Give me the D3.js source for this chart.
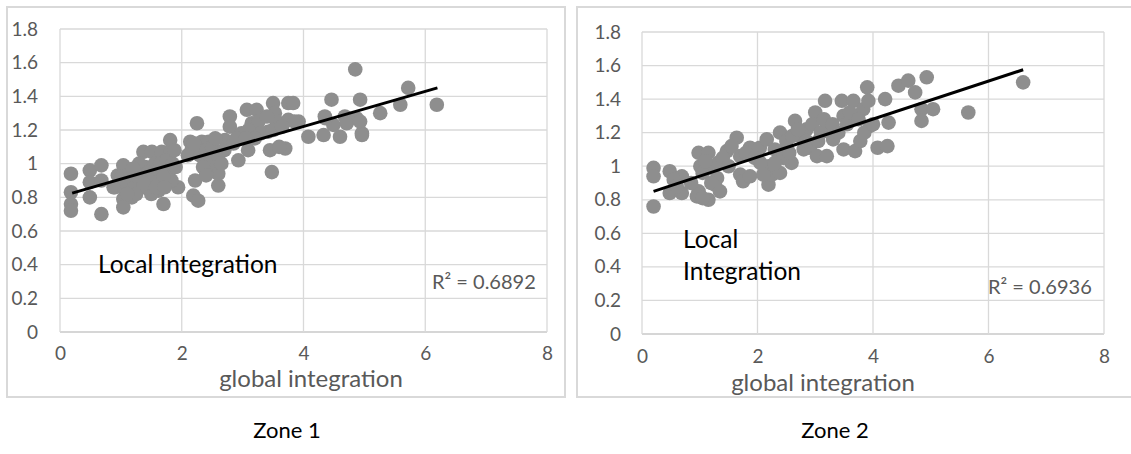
<!DOCTYPE html>
<html>
<head>
<meta charset="utf-8">
<script src="https://cdn.jsdelivr.net/npm/d3@7"></script>
<style>
  html, body { margin: 0; padding: 0; background: #ffffff; }
  svg { display: block; font-family: Lato, "Open Sans", sans-serif; }
</style>
</head>
<body>
<svg id="chart" width="1131" height="454"></svg>
<script>
// ---------- data ----------
const xTicks = [0, 2, 4, 6, 8];
const yTicks = [0, 0.2, 0.4, 0.6, 0.8, 1, 1.2, 1.4, 1.6, 1.8];
const xAxisTitle = "global integration";
const zoneNames = ["Zone 1", "Zone 2"];
const annotation1 = ["Local Integration"];
const annotation2 = ["Local", "Integration"];
const rSquared = ["R² = 0.6892", "R² = 0.6936"];

// Zone 1 scatter (global integration, local integration)
const zone1X = [0.18,0.18,0.18,0.18,0.49,0.68,0.49,0.68,0.49,0.68,0.88,0.95,0.90,
  1.04,1.01,1.07,1.04,1.04,1.18,1.23,1.37,1.40,1.34,1.51,1.56,1.51,1.62,1.70,1.67,1.81,1.81,1.78,1.94,1.83,
  1.10,1.15,1.20,1.25,1.30,1.30,1.45,1.45,1.50,1.55,1.60,1.65,1.70,1.75,1.85,1.90,1.20,1.10,1.38,1.58,1.72,1.88,
  2.14,2.25,2.16,2.22,2.19,2.27,2.33,2.44,2.49,2.46,2.60,2.60,2.55,2.71,2.79,2.79,2.93,2.98,
  2.10,2.30,2.35,2.40,2.50,2.60,2.65,2.70,2.85,2.90,2.20,2.40,2.55,
  3.07,3.23,3.09,3.15,3.26,3.42,3.45,3.48,3.50,3.53,3.56,3.70,3.75,3.83,3.75,3.92,3.60,3.85,3.10,3.30,3.20,3.50,3.40,3.05,3.65,
  4.08,4.33,4.35,4.46,4.49,4.60,4.68,4.87,4.93,4.96,5.26,5.59,5.72,6.19,4.85,4.71,4.93,4.36,4.96];
const zone1Y = [0.94,0.83,0.76,0.72,0.96,0.99,0.89,0.90,0.80,0.70,0.86,0.93,0.86,
  0.99,0.92,0.84,0.79,0.74,0.80,0.90,1.07,0.98,0.86,1.07,1.00,0.90,0.84,0.76,1.07,1.14,1.07,0.94,0.86,0.90,
  0.88,0.95,0.85,0.82,0.92,1.00,0.95,0.85,0.82,0.93,0.97,1.00,0.92,1.02,1.00,0.98,0.97,0.82,0.88,0.86,0.86,1.08,
  1.13,1.24,1.08,0.90,0.81,0.78,1.13,1.13,1.02,0.96,0.87,0.94,1.08,1.14,1.28,1.22,1.02,1.18,
  1.05,1.05,0.98,1.08,1.10,1.05,1.00,1.08,1.12,1.15,1.12,0.93,1.15,
  1.32,1.32,1.08,1.24,1.25,1.19,1.08,0.95,1.36,1.30,1.25,1.09,1.36,1.36,1.26,1.25,1.10,1.25,1.20,1.18,1.15,1.20,1.28,1.15,1.22,
  1.16,1.17,1.28,1.38,1.23,1.16,1.28,1.27,1.38,1.18,1.30,1.35,1.45,1.35,1.56,1.24,1.25,1.27,1.17];

// Zone 2 scatter
const zone2X = [0.20,0.20,0.20,0.48,0.48,0.69,0.69,0.98,1.15,1.01,1.21,0.98,1.15,1.26,1.32,1.47,1.64,1.70,1.70,1.75,1.87,1.87,
  2.04,2.16,2.19,2.19,2.25,2.39,2.39,2.51,2.59,2.65,2.74,2.85,2.91,3.00,3.03,3.17,3.20,3.20,3.31,3.46,3.49,3.49,3.66,3.69,3.78,3.83,3.90,3.92,3.95,
  4.08,4.25,4.21,4.27,4.44,4.61,4.73,4.84,4.84,4.93,5.04,5.65,6.60,
  0.55,0.60,1.05,1.10,1.30,1.40,1.50,1.55,1.80,1.95,2.05,2.10,2.30,2.45,2.50,2.60,2.70,2.80,2.95,3.10,3.15,3.30,3.40,3.55,3.60,3.75,3.85,4.00,
  2.30,2.55,2.85,3.05,1.20,0.85,1.35,0.95,1.05];
const zone2Y = [0.99,0.94,0.76,0.97,0.84,0.94,0.84,1.08,1.08,1.00,0.99,0.85,0.80,0.89,1.02,1.09,1.17,1.06,0.95,0.91,0.94,1.11,
  1.11,1.16,1.00,0.89,0.95,0.96,1.20,1.11,1.02,1.27,1.18,1.22,1.11,1.32,1.06,1.39,1.24,1.06,1.16,1.39,1.30,1.10,1.39,1.09,1.15,1.34,1.47,1.39,1.24,
  1.11,1.12,1.40,1.26,1.48,1.51,1.44,1.34,1.27,1.53,1.34,1.32,1.50,
  0.92,0.88,0.96,1.03,0.93,1.05,1.00,1.12,1.08,1.05,1.02,0.95,1.10,1.05,1.15,1.18,1.22,1.10,1.25,1.20,1.28,1.25,1.20,1.25,1.32,1.28,1.20,1.25,
  1.02,1.08,1.15,1.15,0.90,0.90,0.85,0.82,0.81];

// Linear trend line end points
const trend1X = [0.2, 6.2];
const trend1Y = [0.825, 1.45];
const trend2X = [0.2, 6.6];
const trend2Y = [0.85, 1.575];

// ---------- drawing ----------
const svg = d3.select("#chart");
const gridColor = "#d9d9d9";
const textGray = "#595959";
const dotColor = "#8e8e8e";

function drawPanel(cfg) {
  const x = d3.scaleLinear().domain([0, 8]).range([cfg.left, cfg.right]);
  const y = d3.scaleLinear().domain([0, 1.8]).range([cfg.bottom, cfg.top]);
  const g = svg.append("g");

  // outer chart border
  g.append("rect")
    .attr("x", cfg.box[0]).attr("y", cfg.box[1])
    .attr("width", cfg.box[2]).attr("height", cfg.box[3])
    .attr("fill", "#fff").attr("stroke", gridColor).attr("stroke-width", 2);

  // grid
  g.selectAll(".hg").data(yTicks).join("line")
    .attr("x1", cfg.left).attr("x2", cfg.right)
    .attr("y1", d => y(d)).attr("y2", d => y(d))
    .attr("stroke", d => d === 0 ? "#c8c8c8" : gridColor).attr("stroke-width", 1.3);
  g.selectAll(".vg").data(xTicks).join("line")
    .attr("y1", cfg.top).attr("y2", cfg.bottom)
    .attr("x1", d => x(d)).attr("x2", d => x(d))
    .attr("stroke", gridColor).attr("stroke-width", 1.3);

  // axes tick labels via d3 axes
  const yAxis = d3.axisLeft(y).tickValues(yTicks).tickSize(0).tickPadding(0)
    .tickFormat(d => d3.format("~g")(d));
  const ya = g.append("g").attr("transform", `translate(${cfg.yLabelX},0)`).call(yAxis);
  ya.select(".domain").remove();
  ya.selectAll("text").attr("fill", textGray).style("font-size", "19px")
    .style("font-family", "Lato, sans-serif");

  const xAxis = d3.axisBottom(x).tickValues(xTicks).tickSize(0).tickPadding(0);
  const xa = g.append("g").attr("transform", `translate(0,${cfg.xLabelY})`).call(xAxis);
  xa.select(".domain").remove();
  xa.selectAll("text").attr("fill", textGray).style("font-size", "19px")
    .style("font-family", "Lato, sans-serif").attr("dy", "0").attr("y", 0);

  // points
  const pts = cfg.xs.map((v, i) => [v, cfg.ys[i]]);
  g.selectAll(".pt").data(pts).join("circle")
    .attr("cx", d => x(d[0])).attr("cy", d => y(d[1]))
    .attr("r", 7.3).attr("fill", dotColor);

  // trend line
  g.append("line")
    .attr("x1", x(cfg.tx[0])).attr("y1", y(cfg.ty[0]))
    .attr("x2", x(cfg.tx[1])).attr("y2", y(cfg.ty[1]))
    .attr("stroke", "#000").attr("stroke-width", 3);

  // axis title
  g.append("text").attr("x", cfg.titleX).attr("y", cfg.titleY)
    .attr("text-anchor", "middle").attr("fill", textGray)
    .style("font-size", "24px").text(xAxisTitle);

  // annotation
  cfg.note.forEach((t, i) => {
    g.append("text").attr("x", cfg.noteX).attr("y", cfg.noteY + i * 32)
      .attr("fill", "#000").style("font-size", "24.5px").text(t);
  });

  // R squared
  g.append("text").attr("x", cfg.rX).attr("y", cfg.rY)
    .attr("fill", textGray).style("font-size", "20px").text(cfg.r);

  // zone label
  svg.append("text").attr("x", cfg.zoneX).attr("y", 438)
    .attr("text-anchor", "middle").attr("fill", "#000")
    .style("font-size", "22px").text(cfg.zone);
}

drawPanel({
  box: [7, 7, 558, 390],
  left: 60, right: 547, top: 29, bottom: 332,
  yLabelX: 38, xLabelY: 360,
  xs: zone1X, ys: zone1Y, tx: trend1X, ty: trend1Y,
  titleX: 311, titleY: 387,
  note: annotation1, noteX: 98, noteY: 273,
  r: rSquared[0], rX: 432, rY: 289,
  zone: zoneNames[0], zoneX: 287
});

drawPanel({
  box: [577, 7, 560, 390],
  left: 642, right: 1104, top: 32, bottom: 334,
  yLabelX: 621, xLabelY: 363,
  xs: zone2X, ys: zone2Y, tx: trend2X, ty: trend2Y,
  titleX: 823, titleY: 391,
  note: annotation2, noteX: 683, noteY: 248,
  r: rSquared[1], rX: 988, rY: 294,
  zone: zoneNames[1], zoneX: 835
});
</script>
</body>
</html>
